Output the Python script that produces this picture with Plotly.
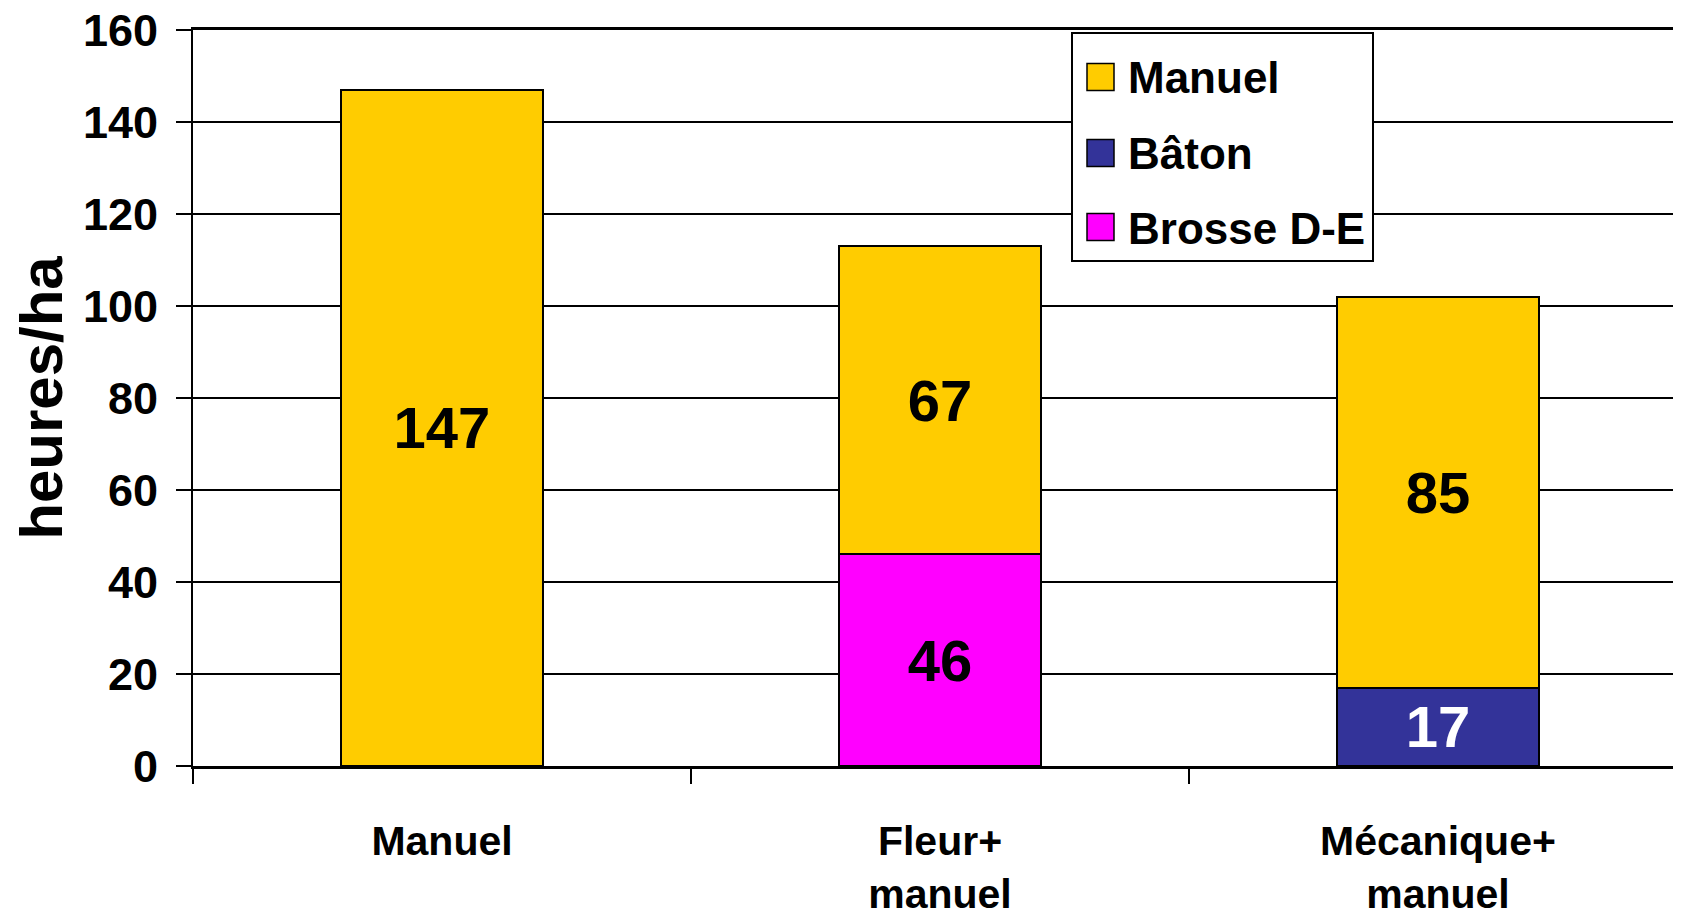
import plotly.graph_objects as go

categories = ["Manuel", "Fleur+<br>manuel", "Mécanique+<br>manuel"]
series_names = ["Manuel", "Bâton", "Brosse D-E"]
manuel = [147, 67, 85]
baton = [None, None, 17]
brosse = [None, 46, None]
colors = {"Manuel": "#FFCC00", "Bâton": "#333399", "Brosse D-E": "#FF00FF"}
text_colors = {"Manuel": "black", "Bâton": "white", "Brosse D-E": "black"}
y_ticks = [0, 20, 40, 60, 80, 100, 120, 140, 160]

FONT = "Liberation Sans, Arial, sans-serif"

# page has an 8px body margin; compensate so the plot lands where the reference has it
OFF = 8
W, H = 1681 - OFF, 919 - OFF
L, T = 193 - OFF, 30 - OFF
R = 0
B = H - (766 - OFF)
PW, PH = W - L - R, H - T - B

fig = go.Figure()
values = {"Manuel": manuel, "Bâton": baton, "Brosse D-E": brosse}
for name in ["Bâton", "Brosse D-E", "Manuel"]:
    vals = values[name]
    fig.add_trace(go.Bar(
        x=categories, y=vals, name=name,
        marker=dict(color=colors[name], line=dict(color="black", width=2)),
        text=[f"<b>{v}</b>" if v is not None else "" for v in vals],
        textposition="inside", insidetextanchor="middle",
        constraintext="none",
        textfont=dict(family=FONT, size=58, color=text_colors[name]),
        showlegend=False,
    ))

# manual legend (large symbols), positions in page pixels
def px_x(px):
    return (px - OFF - L) / PW

def px_y(py):
    return (H - B - (py - OFF)) / PH

shapes = [dict(type="rect", xref="paper", yref="paper",
               x0=px_x(1072), x1=px_x(1373), y0=px_y(261), y1=px_y(33),
               fillcolor="white", line=dict(color="black", width=2), layer="above")]
annotations = []
row_centers = [77, 153, 227]
for name, cy in zip(series_names, row_centers):
    shapes.append(dict(type="rect", xref="paper", yref="paper",
                       x0=px_x(1087), x1=px_x(1114), y0=px_y(cy + 13.5), y1=px_y(cy - 13.5),
                       fillcolor=colors[name], line=dict(color="black", width=1.5), layer="above"))
    annotations.append(dict(xref="paper", yref="paper", x=px_x(1126), y=px_y(cy + 1),
                            xanchor="left", yanchor="middle", text=f"<b>{name}</b>",
                            showarrow=False, font=dict(family=FONT, size=44, color="black")))

fig.update_layout(
    width=W, height=H,
    margin=dict(l=L, r=R, t=T, b=B, autoexpand=False, pad=0),
    barmode="stack", bargap=0.595,
    plot_bgcolor="white", paper_bgcolor="white",
    showlegend=False,
    shapes=shapes, annotations=annotations,
    xaxis=dict(
        range=[-0.5, 2.488], showgrid=False, showline=True, linecolor="black", linewidth=2.5,
        mirror=True,
        ticks="outside", tickson="boundaries", ticklen=15, tickwidth=1.5, tickcolor="black",
        tickfont=dict(family=FONT, size=41, color="black"), ticklabelstandoff=37,
        automargin=False,
    ),
    yaxis=dict(
        range=[0, 160], tickvals=y_ticks, showgrid=True, gridcolor="black", gridwidth=1.5,
        showline=True, linecolor="black", linewidth=2,
        ticks="outside", ticklen=15, tickwidth=1.5, tickcolor="black",
        tickfont=dict(family=FONT, size=45, color="black"), ticklabelstandoff=9,
        ticklabeloverflow="allow",
        title=dict(text="<b>heures/ha</b>", font=dict(family=FONT, size=60, color="black"), standoff=20),
        automargin=False, zeroline=False,
    ),
)
fig.update_xaxes(tickvals=categories, ticktext=[f"<b>{c}</b>" for c in categories])
fig.update_yaxes(ticktext=[f"<b>{v}</b>" for v in y_ticks])

fig.write_html("out.html")
